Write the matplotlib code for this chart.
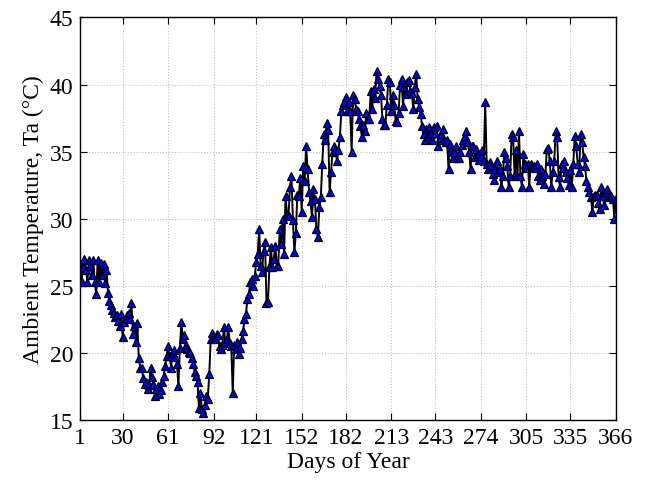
import numpy as np
import matplotlib
matplotlib.use('Agg')
import matplotlib.pyplot as plt

# daily ambient temperature
jan = [26.6, 25.3, 26.4, 27.0, 26.2, 25.3, 26.9, 26.5, 25.8, 26.9, 25.3, 24.4, 26.9, 25.3, 26.7, 25.8,
       26.6, 25.2, 26.2, 24.5, 23.9, 23.6, 23.2, 23.0, 22.7, 22.8, 22.4, 22.0, 22.9, 21.2, 22.3]
feb = [22.6, 22.8, 23.0, 22.5, 23.7, 21.4, 22.0, 20.8, 22.2, 19.6, 18.9, 18.9, 18.1, 17.7, 17.8, 17.3,
       17.6, 18.9, 18.2, 17.7, 16.8, 17.3, 17.5, 16.9, 17.2, 17.8, 18.3, 19.0, 19.8]
mar = [20.5, 19.8, 18.9, 20.0, 20.2, 19.7, 19.2, 17.5, 20.4, 22.3, 21.0, 21.3, 20.6, 20.3, 20.1, 20.0,
       19.6, 19.2, 18.6, 18.3, 17.8, 15.9, 17.0, 15.8, 15.5, 16.1, 16.8, 16.6, 18.4, 21.0, 21.5]
apr = [21.2, 21.0, 21.4, 21.3, 20.5, 20.3, 20.6, 21.9, 20.7, 21.0, 21.9, 20.7, 20.5, 17.0, 20.6, 20.3,
       20.8, 19.9, 20.4, 21.0, 21.6, 22.5, 22.9, 24.0, 24.4, 25.3, 25.5, 25.0, 25.7, 26.8]
may = [27.4, 29.2, 26.5, 26.0, 27.6, 28.3, 23.7, 23.8, 26.4, 27.9, 26.4, 27.0, 28.0, 26.5, 26.5, 29.2,
       28.1, 30.0, 27.4, 31.7, 30.3, 30.2, 32.4, 33.2, 29.9, 27.5, 28.9, 31.8, 31.7, 33.0, 30.5]
jun = [33.9, 32.8, 35.4, 33.7, 32.0, 31.3, 30.1, 32.2, 31.5, 29.2, 28.6, 30.9, 31.6, 34.1, 36.3, 35.9,
       37.1, 36.6, 32.0, 33.5, 35.0, 35.4, 35.1, 34.3, 35.1, 36.1, 38.0, 38.5, 38.7, 39.1]
jul = [38.0, 38.7, 38.0, 35.0, 39.2, 38.9, 38.2, 38.0, 37.4, 36.9, 36.1, 37.0, 36.5, 37.9, 37.4, 37.4,
       39.5, 38.2, 39.7, 39.0, 41.0, 40.4, 39.9, 39.2, 37.4, 37.0, 37.0, 38.5, 40.4, 40.2, 38.0]
aug = [39.2, 38.5, 37.3, 37.2, 37.9, 40.0, 40.4, 38.4, 39.8, 39.3, 40.2, 40.3, 39.5, 39.4, 38.2, 39.8,
       40.8, 38.9, 38.3, 37.8, 36.9, 36.3, 35.9, 36.7, 36.2, 36.8, 36.3, 35.9, 36.8, 36.4, 36.9]
sep = [35.4, 36.0, 36.3, 36.7, 35.9, 35.7, 35.9, 33.7, 35.6, 35.1, 34.5, 35.0, 35.4, 34.5, 34.5, 35.0,
       35.5, 35.9, 36.2, 36.5, 35.7, 35.0, 33.7, 35.4, 35.4, 34.6, 35.2, 34.8, 34.4, 34.7]
octo = [35.1, 34.3, 38.7, 34.1, 33.7, 34.2, 33.9, 33.3, 32.9, 33.7, 34.3, 33.5, 33.7, 32.4, 33.2, 35.0,
        34.5, 33.9, 32.4, 33.2, 36.3, 36.1, 33.3, 35.1, 33.2, 36.5, 33.2, 32.4, 34.8, 34.1, 33.8]
nov = [34.1, 32.4, 34.1, 33.9, 33.9, 33.8, 34.1, 33.2, 32.9, 33.7, 33.2, 32.6, 33.3, 35.2, 35.3, 34.3,
       32.4, 33.5, 34.3, 36.5, 36.1, 33.1, 32.4, 34.1, 33.8, 34.3, 33.5, 33.0, 32.5, 33.6]
dec = [32.4, 34.1, 36.2, 35.4, 34.1, 33.5, 36.3, 35.7, 34.6, 33.9, 32.8, 32.4, 32.0, 31.6, 30.5, 31.7,
       31.8, 31.8, 31.2, 30.7, 32.4, 31.7, 31.0, 32.0, 32.2, 31.6, 31.8, 31.7, 31.5, 30.0, 31.5]

xtick_days = [1, 30, 61, 92, 121, 152, 182, 213, 243, 274, 305, 335, 366]

temps = np.array(jan + feb + mar + apr + may + jun + jul + aug + sep + octo + nov + dec)
days = np.arange(1, len(temps) + 1)

plt.rcParams['font.family'] = ['Liberation Serif', 'DejaVu Serif']

fig = plt.figure(figsize=(6.51, 4.85), dpi=100)
ax = fig.add_axes([0.123, 0.132, 0.823, 0.830])

ax.plot(days, temps, color='black', linewidth=1.4,
        marker='^', markersize=6, markerfacecolor='#0000ff',
        markeredgecolor='black', markeredgewidth=0.9)

ax.set_xlim(1, 366)
ax.set_ylim(15, 45)
ax.set_xticks(xtick_days)
ax.set_yticks(range(15, 46, 5))
ax.grid(True, linestyle=':', color='#c0c0c0', linewidth=0.8)
ax.tick_params(direction='in', top=True, right=True, labelsize=17, length=5, pad=5)
for s in ax.spines.values():
    s.set_linewidth(1.0)

ax.set_xlabel('Days of Year', fontsize=17, labelpad=2)
ax.set_ylabel('Ambient Temperature, Ta (°C)', fontsize=17, labelpad=4)

fig.savefig('out.png', dpi=100)
